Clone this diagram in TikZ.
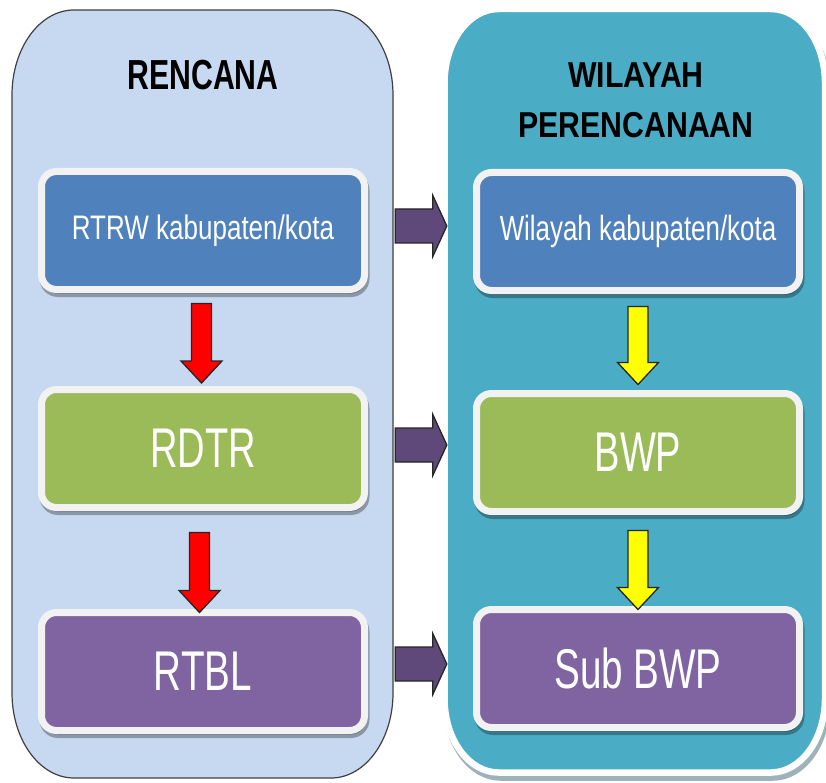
\documentclass[tikz,border=0pt]{standalone}
\usepackage{fontspec}
\setmainfont{Liberation Sans}
\usepackage{graphicx}
\usetikzlibrary{calc,shadows}

\definecolor{panelL}{HTML}{C6D9F1}
\definecolor{panelR}{HTML}{4BACC6}
\definecolor{boxblue}{HTML}{4F81BD}
\definecolor{boxgreen}{HTML}{9BBB59}
\definecolor{boxpurple}{HTML}{8064A2}
\definecolor{linkpurple}{HTML}{5F497A}
\definecolor{rim}{HTML}{F2F2F2}
\definecolor{rimshadow}{HTML}{9DB3B9}
\definecolor{arrowred}{HTML}{FF0000}
\definecolor{arrowyellow}{HTML}{FFFF00}

% horizontally condensed text
\newcommand\xsqueeze[2]{\scalebox{#1}[1]{#2}}

% rectangle with elliptical corners: x1, y1 (top), x2, y2 (bottom), rx, ry
\newcommand\ovalcornerpath[6]{%
  (#1+#5, #2) -- (#3-#5, #2)
  arc[start angle=90, end angle=0, x radius=#5pt, y radius=#6pt]
  -- (#3, #4-#6)
  arc[start angle=0, end angle=-90, x radius=#5pt, y radius=#6pt]
  -- (#1+#5, #4)
  arc[start angle=-90, end angle=-180, x radius=#5pt, y radius=#6pt]
  -- (#1, #2+#6)
  arc[start angle=180, end angle=90, x radius=#5pt, y radius=#6pt]
  -- cycle}

% vertical block arrow from a tail point down to a tip point
\newcommand\downblock[3]{%
  \filldraw[blockarrow, fill=#3] let \p1=(#1), \p2=(#2) in
    (\x1-10pt,\y1) -- (\x1+10pt,\y1) -- (\x1+10pt,\y2+22pt) -- (\x1+20.5pt,\y2+22pt)
    -- (\x1,\y2) -- (\x1-20.5pt,\y2+22pt) -- (\x1-10pt,\y2+22pt) -- cycle;}

% horizontal block arrow from a tail point right to a tip point
\newcommand\rightblock[3]{%
  \filldraw[blockarrow, fill=#3] let \p1=(#1), \p2=(#2) in
    (\x1,\y1+17pt) -- (\x2-14pt,\y1+17pt) -- (\x2-14pt,\y1+30.5pt) -- (\x2,\y1)
    -- (\x2-14pt,\y1-30.5pt) -- (\x2-14pt,\y1-17pt) -- (\x1,\y1-17pt) -- cycle;}

\tikzset{
  blockarrow/.style={draw=black!85, line width=1.3pt, line join=miter},
  panelarea/.style={rectangle, inner sep=0pt},
  title/.style={text=black, align=center, inner sep=0pt},
  stagebox/.style={rectangle, rounded corners=15pt, draw=rim, line width=7pt,
    minimum width=323pt, minimum height=118pt, inner sep=0pt, text=white,
    drop shadow={shadow xshift=1.5pt, shadow yshift=-4pt, fill=black,
      draw=black, line width=7pt, opacity=0.3}},
}

\begin{document}
\begin{tikzpicture}[x=1pt, y=-1pt]
  \useasboundingbox[fill=white] (0,0) rectangle (826,783);

  % left column panel
  \filldraw[fill=panelL, draw=black!75, line width=1.2pt]
    \ovalcornerpath{12}{10}{393}{778}{62}{85};
  \node[panelarea, minimum width=381pt, minimum height=768pt] (rencana) at (202.5,394) {};

  % right column panel: soft shadow, white rim, teal fill
  \filldraw[fill=rimshadow, draw=rimshadow, line width=6.5pt]
    \ovalcornerpath{446.5}{14}{827}{777.5}{54}{74};
  \filldraw[fill=panelR, draw=white, line width=6.5pt]
    \ovalcornerpath{444.5}{9}{825}{772.5}{54}{74};
  \node[panelarea, minimum width=380.5pt, minimum height=763.5pt] (wilayah) at (634.75,390.75) {};

  % column headings
  \node[title, font=\bfseries\fontsize{42}{50}\selectfont] (trencana) at (203,75)
    {\xsqueeze{0.72}{RENCANA}};
  \node[title, font=\bfseries\fontsize{36}{50}\selectfont] (twilayah) at (636,100)
    {\xsqueeze{0.84}{WILAYAH}\\ \xsqueeze{0.84}{PERENCANAAN}};

  % plan levels
  \node[stagebox, fill=boxblue] (rtrw) at (203,230.5)
    {\raisebox{-2.5pt}{\fontsize{34}{40}\selectfont\xsqueeze{0.765}{RTRW kabupaten/kota}}};
  \node[stagebox, fill=boxgreen] (rdtr) at (203,448.5)
    {\fontsize{56}{60}\selectfont\xsqueeze{0.68}{RDTR}};
  \node[stagebox, fill=boxpurple] (rtbl) at (203,671.5)
    {\fontsize{56}{60}\selectfont\xsqueeze{0.69}{RTBL}};

  % planning areas
  \node[stagebox, fill=boxblue] (wkab) at (638,231.5)
    {\raisebox{-2.5pt}{\fontsize{35}{40}\selectfont\xsqueeze{0.74}{Wilayah kabupaten/kota}}};
  \node[stagebox, fill=boxgreen] (bwp) at (638,452.5)
    {\fontsize{56}{60}\selectfont\xsqueeze{0.68}{BWP}};
  \node[stagebox, fill=boxpurple] (subbwp) at (638,668.5)
    {\fontsize{56}{60}\selectfont\xsqueeze{0.69}{Sub BWP}};

  % hierarchy arrows
  \coordinate (r1a) at ($(rtrw.south)+(-1.5,10.5)$);
  \coordinate (r1b) at ($(rdtr.north)+(-1.5,-3)$);
  \coordinate (r2a) at ($(rdtr.south)+(-3.5,21.5)$);
  \coordinate (r2b) at ($(rtbl.north)+(-3.5,3.5)$);
  \coordinate (y1a) at ($(wkab.south)+(0,12.5)$);
  \coordinate (y1b) at ($(bwp.north)+(0,-5.5)$);
  \coordinate (y2a) at ($(bwp.south)+(0,15.5)$);
  \coordinate (y2b) at ($(subbwp.north)+(0,3.5)$);
  \downblock{r1a}{r1b}{arrowred}
  \downblock{r2a}{r2b}{arrowred}
  \downblock{y1a}{y1b}{arrowyellow}
  \downblock{y2a}{y2b}{arrowyellow}

  % links between the columns
  \coordinate (p1a) at ($(rencana.east |- rtrw.center)+(2,-4.5)$);
  \coordinate (p1b) at ($(wilayah.west |- rtrw.center)+(2.5,-4.5)$);
  \coordinate (p2a) at ($(rencana.east |- rdtr.center)+(2,-3.5)$);
  \coordinate (p2b) at ($(wilayah.west |- rdtr.center)+(2.5,-3.5)$);
  \coordinate (p3a) at ($(rencana.east |- rtbl.center)+(2,-7.5)$);
  \coordinate (p3b) at ($(wilayah.west |- rtbl.center)+(2.5,-7.5)$);
  \rightblock{p1a}{p1b}{linkpurple}
  \rightblock{p2a}{p2b}{linkpurple}
  \rightblock{p3a}{p3b}{linkpurple}
\end{tikzpicture}
\end{document}
